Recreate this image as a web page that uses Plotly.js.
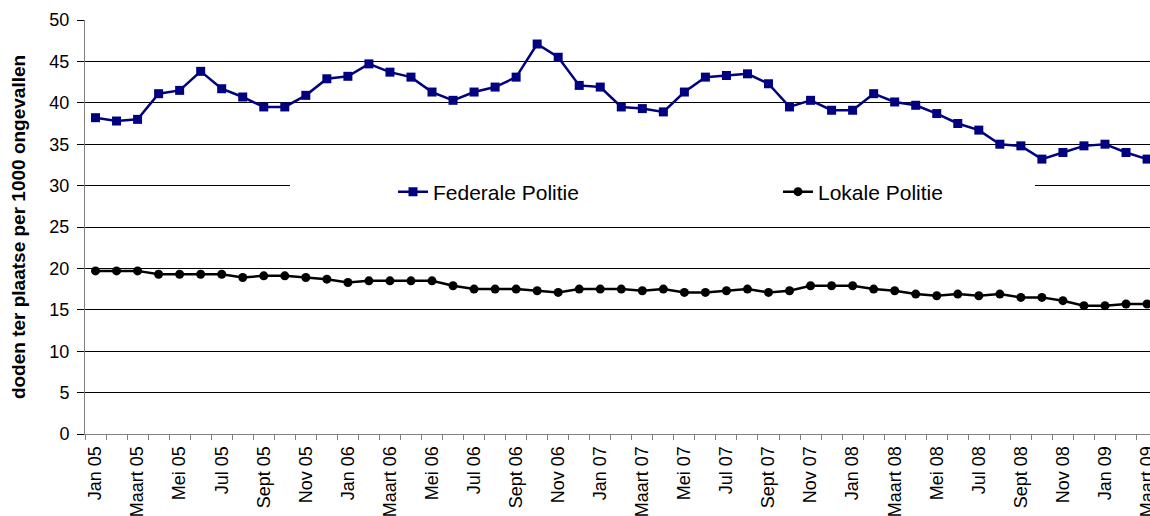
<!DOCTYPE html>
<html>
<head>
<meta charset="utf-8">
<script src="https://cdn.plot.ly/plotly-3.0.1.min.js"></script>
<style>
html,body{margin:0;padding:0;background:#fff;}
#chart{width:1150px;height:516px;}
</style>
</head>
<body>
<div id="chart"></div>
<script>
const categories = [
  "Jan 05","Feb 05","Maart 05","April 05","Mei 05","Juni 05","Jul 05","Aug 05","Sept 05","Okt 05","Nov 05","Dec 05",
  "Jan 06","Feb 06","Maart 06","April 06","Mei 06","Juni 06","Jul 06","Aug 06","Sept 06","Okt 06","Nov 06","Dec 06",
  "Jan 07","Feb 07","Maart 07","April 07","Mei 07","Juni 07","Jul 07","Aug 07","Sept 07","Okt 07","Nov 07","Dec 07",
  "Jan 08","Feb 08","Maart 08","April 08","Mei 08","Juni 08","Jul 08","Aug 08","Sept 08","Okt 08","Nov 08","Dec 08",
  "Jan 09","Feb 09","Maart 09"
];
const federale = [
  38.2,37.8,38.0,41.1,41.5,43.8,41.7,40.7,39.5,39.5,
  40.9,42.9,43.2,44.7,43.7,43.1,41.3,40.3,41.3,41.9,
  43.1,47.1,45.5,42.1,41.9,39.5,39.3,38.9,41.3,43.1,
  43.3,43.5,42.3,39.5,40.3,39.1,39.1,41.1,40.1,39.7,
  38.7,37.5,36.7,35.0,34.8,33.2,34.0,34.8,35.0,34.0,
  33.2
];
const lokale = [
  19.7,19.7,19.7,19.3,19.3,19.3,19.3,18.9,19.1,19.1,
  18.9,18.7,18.3,18.5,18.5,18.5,18.5,17.9,17.5,17.5,
  17.5,17.3,17.1,17.5,17.5,17.5,17.3,17.5,17.1,17.1,
  17.3,17.5,17.1,17.3,17.9,17.9,17.9,17.5,17.3,16.9,
  16.7,16.9,16.7,16.9,16.5,16.5,16.1,15.5,15.5,15.7,
  15.7
];
const seriesNames = ["Federale Politie","Lokale Politie"];
const yTickVals = [0,5,10,15,20,25,30,35,40,45,50];
const tickLabels = categories.map((c, i) => (i % 2 === 0 ? c : ""));

const FONT = "Liberation Sans, Arial, sans-serif";

const traces = [
  {
    type: "scatter", mode: "lines+markers", name: seriesNames[0],
    x: categories, y: federale, legend: "legend",
    line: {color: "#000080", width: 2.5},
    marker: {symbol: "square", size: 9, color: "#000080"}
  },
  {
    type: "scatter", mode: "lines+markers", name: seriesNames[1],
    x: categories, y: lokale, legend: "legend2",
    line: {color: "#000000", width: 2.5},
    marker: {symbol: "circle", size: 9, color: "#000000"}
  }
];

const legendCommon = {
  orientation: "h",
  yanchor: "middle", y: 0.5845,
  xanchor: "left",
  bgcolor: "rgba(0,0,0,0)",
  font: {family: FONT, size: 21, color: "#000000"},
  itemwidth: 30
};

const layout = {
  width: 1150, height: 516,
  margin: {l: 85, r: 0, t: 20, b: 82},
  paper_bgcolor: "#ffffff", plot_bgcolor: "#ffffff",
  font: {family: FONT, color: "#000000"},
  showlegend: true,
  legend: Object.assign({}, legendCommon, {x: 0.2892}),
  legend2: Object.assign({}, legendCommon, {x: 0.6507}),
  xaxis: {
    type: "category",
    range: [-0.5, 50.14],
    automargin: false,
    tickmode: "array",
    tickvals: categories,
    ticktext: tickLabels,
    tickson: "boundaries",
    ticks: "outside", ticklen: 5, tickcolor: "#808080", tickwidth: 1,
    tickangle: -90,
    ticklabelstandoff: 4,
    tickfont: {family: FONT, size: 18, color: "#000000"},
    showgrid: false, zeroline: false,
    showline: true, linecolor: "#808080", linewidth: 1,
    fixedrange: true
  },
  yaxis: {
    range: [0, 50],
    automargin: false,
    tickmode: "array",
    tickvals: yTickVals,
    ticks: "outside", ticklen: 7, tickcolor: "#000000", tickwidth: 1,
    ticklabelstandoff: 4,
    tickfont: {family: FONT, size: 18, color: "#000000"},
    showgrid: true, gridcolor: "#000000", gridwidth: 1,
    zeroline: false,
    showline: true, linecolor: "#808080", linewidth: 1,
    title: {
      text: "<b>doden ter plaatse per 1000 ongevallen</b>",
      font: {family: FONT, size: 19, color: "#000000"},
      standoff: 18
    },
    fixedrange: true
  },
  shapes: [
    {
      type: "rect", xref: "paper", yref: "y",
      x0: 0.1925, x1: 0.892, y0: 29, y1: 31,
      fillcolor: "#ffffff", line: {width: 0}, layer: "above"
    }
  ]
};

Plotly.newPlot("chart", traces, layout, {displayModeBar: false, staticPlot: true});
</script>
</body>
</html>
